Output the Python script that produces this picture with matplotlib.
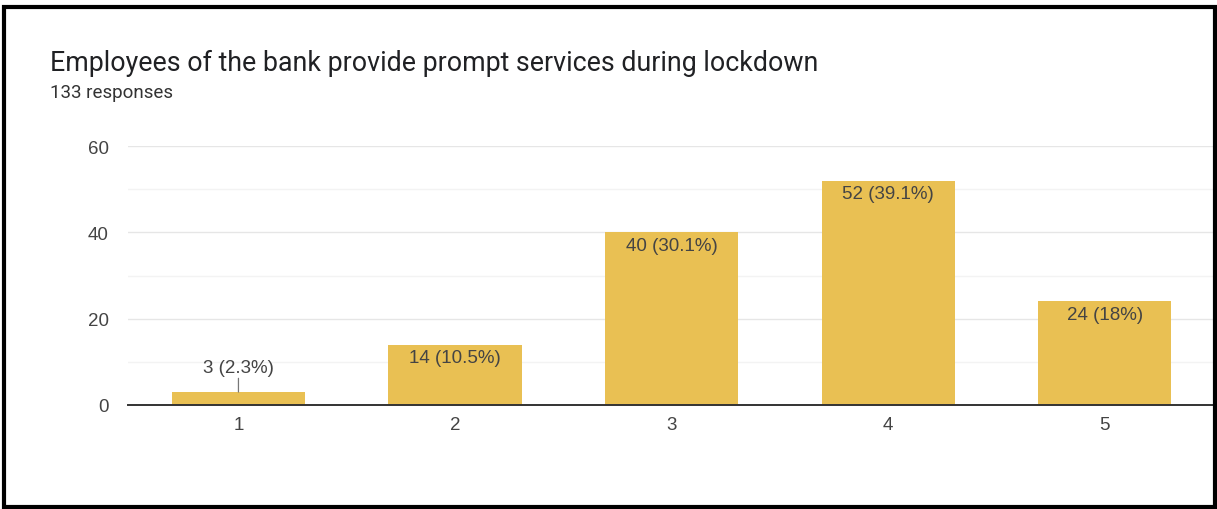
import matplotlib.pyplot as plt
from matplotlib.patches import Rectangle
from matplotlib.ticker import MultipleLocator

# data
categories = [1, 2, 3, 4, 5]
counts = [3, 14, 40, 52, 24]
percent_labels = ["2.3%", "10.5%", "30.1%", "39.1%", "18%"]

title = "Employees of the bank provide prompt services during lockdown"
subtitle = "133 responses"

bar_color = "#E9C053"
text_color = "#444444"

fig = plt.figure(figsize=(12.17, 5.10), dpi=100)
ax = fig.add_axes([128 / 1217, 104 / 510, (1213 - 128) / 1217, (406 - 147) / 510])

ax.bar(categories, counts, width=0.615, color=bar_color, zorder=2)

ax.set_xlim(0.49, 5.5)
ax.set_ylim(0, 60)
ax.yaxis.set_major_locator(MultipleLocator(20))
ax.yaxis.set_minor_locator(MultipleLocator(10))
ax.grid(axis="y", which="major", color="#e6e6e6", linewidth=1, zorder=0)
ax.grid(axis="y", which="minor", color="#f3f3f3", linewidth=1, zorder=0)
ax.set_xticks(categories)

for side in ["top", "right", "left"]:
    ax.spines[side].set_visible(False)
ax.spines["bottom"].set_color("#333333")
ax.spines["bottom"].set_linewidth(1.4)
ax.spines["bottom"].set_zorder(3)

ax.tick_params(axis="both", which="both", length=0, labelsize=13.5, labelcolor=text_color)
ax.tick_params(axis="y", pad=14)
ax.tick_params(axis="x", pad=8)
for lbl in ax.get_xticklabels() + ax.get_yticklabels():
    lbl.set_fontfamily("Liberation Sans")

# value labels
for x, c, p in zip(categories, counts, percent_labels):
    label = f"{c} ({p})"
    if c < 8:
        # small bar: label above with a leader line
        ax.annotate(label, xy=(x, c), xytext=(0, 18), textcoords="offset points",
                    ha="center", va="center", fontsize=13.5, color=text_color,
                    family="Liberation Sans",
                    arrowprops=dict(arrowstyle="-", color="#777777", lw=0.9,
                                    shrinkA=0, shrinkB=0))
    else:
        ax.annotate(label, xy=(x, c), xytext=(0, -9.5), textcoords="offset points",
                    ha="center", va="center", fontsize=13.5, color=text_color,
                    family="Liberation Sans", zorder=4)

fig.text(50 / 1217, 1 - 63 / 510, title, fontsize=19.3, color="#202124",
         family="Roboto", va="center", ha="left")
fig.text(50 / 1217, 1 - 93 / 510, subtitle, fontsize=13.5, color="#333333",
         family="Roboto", va="center", ha="left")

# black frame around the screenshot
fig.patches.append(Rectangle((4 / 1217, 2 / 510), 1211 / 1217, 500 / 510,
                             transform=fig.transFigure, fill=False,
                             edgecolor="black", linewidth=3, zorder=10))

fig.savefig("out.png", dpi=100)
